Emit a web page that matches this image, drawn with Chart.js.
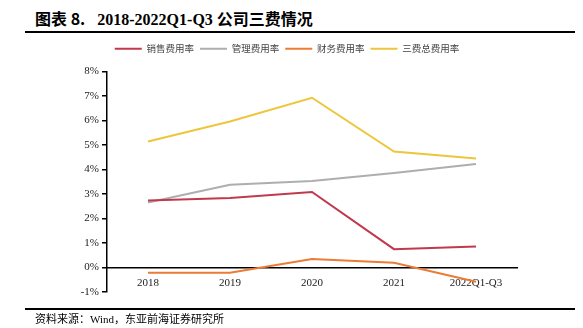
<!DOCTYPE html>
<html>
<head>
<meta charset="utf-8">
<script src="https://cdn.jsdelivr.net/npm/chart.js@4.4.0/dist/chart.umd.min.js"></script>
<style>
  body { margin: 0; background: #fff; }
  #wrap { position: relative; width: 583px; height: 328px; overflow: hidden; }
  #chart { position: absolute; left: 0; top: 0; }
  .title { position: absolute; left: 35px; top: 6px; font-size: 16px; font-weight: bold; color: #000; white-space: nowrap; }
  .title .cjk { font-family: "Noto Sans CJK SC"; }
  .title .num { font-family: "Liberation Serif"; }
  .rule { position: absolute; left: 25px; width: 550px; height: 2px; background: #000; }
  .source { position: absolute; left: 35px; top: 310px; font-size: 11px; color: #000; white-space: nowrap; font-family: "Noto Sans CJK SC"; }
  .source .num { font-family: "Liberation Serif"; }
</style>
</head>
<body>
<div id="wrap">
  <div class="title"><span class="cjk">图表 8.</span>&nbsp;&nbsp;&nbsp;<span class="num">2018-2022Q1-Q3</span> <span class="cjk">公司三费情况</span></div>
  <div class="rule" style="top:31px"></div>
  <canvas id="chart" width="583" height="328"></canvas>
  <div class="rule" style="top:308px"></div>
  <div class="source">资料来源：<span class="num">Wind</span>，东亚前海证券研究所</div>
</div>
<script>
const categories = ['2018', '2019', '2020', '2021', '2022Q1-Q3'];
const salesRate = [2.73, 2.84, 3.08, 0.75, 0.86];
const adminRate = [2.65, 3.38, 3.53, 3.86, 4.22];
const financeRate = [-0.21, -0.21, 0.35, 0.19, -0.58];
const totalRate = [5.14, 5.96, 6.93, 4.73, 4.45];

const red = '#C0394D';
const gray = '#AEAEAE';
const orange = '#EC7B35';
const yellow = '#EDC63C';

const serif = 'Liberation Serif';

function line(label, data, color) {
  return {
    label: label,
    data: data,
    borderColor: color,
    backgroundColor: color,
    borderWidth: 2,
    pointRadius: 0,
    tension: 0,
  };
}

// extra room under the legend
const legendGap = {
  id: 'legendGap',
  beforeInit(chart) {
    const legend = chart.legend;
    if (!legend) return;
    const fit = legend.fit;
    legend.fit = function () {
      fit.call(this);
      this.height += 8;
    };
  },
};

new Chart(document.getElementById('chart'), {
  type: 'line',
  data: {
    labels: categories,
    datasets: [
      line('销售费用率', salesRate, red),
      line('管理费用率', adminRate, gray),
      line('财务费用率', financeRate, orange),
      line('三费总费用率', totalRate, yellow),
    ]
  },
  plugins: [legendGap],
  options: {
    responsive: false,
    animation: false,
    layout: {
      padding: { top: 38, left: 57, right: 66, bottom: 36 },
    },
    plugins: {
      legend: {
        display: true,
        position: 'top',
        labels: {
          boxWidth: 27,
          boxHeight: 2,
          padding: 6,
          color: '#444',
          font: { family: 'Noto Sans CJK SC', size: 9.5 },
          generateLabels: function (chart) {
            return Chart.defaults.plugins.legend.labels.generateLabels(chart)
              .map(function (l) { l.lineWidth = 0; return l; });
          },
        },
      },
      tooltip: { enabled: false },
    },
    scales: {
      x: {
        position: { y: 0 },
        offset: true,
        grid: { display: false, drawTicks: false },
        border: { display: true, color: '#000', width: 1.5 },
        ticks: {
          padding: 9,
          color: '#222',
          font: { family: serif, size: 11 },
          maxRotation: 0,
        },
      },
      y: {
        min: -1,
        max: 8,
        afterFit: function (scale) { scale.width = 50; },
        grid: { drawOnChartArea: false, drawTicks: true, tickLength: 5, color: '#000', lineWidth: 1.5 },
        border: { display: true, color: '#000', width: 1.5 },
        ticks: {
          stepSize: 1,
          padding: 3,
          color: '#222',
          font: { family: serif, size: 11 },
          callback: function (v) { return v + '%'; },
        },
      },
    },
  },
});
</script>
</body>
</html>
